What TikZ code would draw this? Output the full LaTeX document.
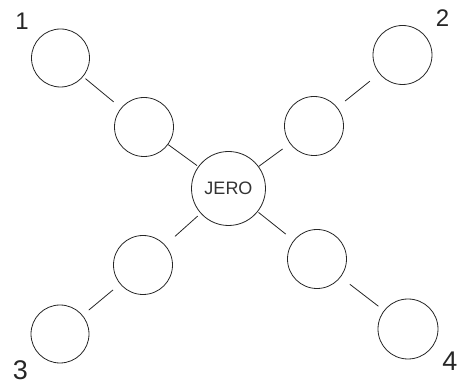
\documentclass[tikz,border=0pt]{standalone}
\usepackage{fontspec}
\setmainfont{Liberation Sans}
\begin{document}
\begin{tikzpicture}[x=1pt,y=-1pt,
  ring/.style={circle,draw=black!85,line width=0.8pt,inner sep=0pt,minimum size=59pt},
  hub/.style={circle,draw=black!85,line width=0.8pt,inner sep=0pt,minimum size=74pt,font=\fontsize{18}{18}\selectfont,text=black!80},
  link/.style={draw=black!85,line width=0.8pt},
  num/.style={inner sep=0pt,text=black!85}]
\useasboundingbox (0,0) rectangle (459,385);
\node[hub] (J) at (228.5,188.5) {JERO};
\node[ring,minimum size=58pt] (C1) at (60.5,58) {};
\node[ring] (A) at (144,127) {};
\node[ring] (B) at (314,126) {};
\node[ring] (C2) at (402.5,55) {};
\node[ring] (D) at (143,265) {};
\node[ring,minimum size=58pt] (C3) at (60,334) {};
\node[ring] (E) at (317,259) {};
\node[ring,minimum size=60pt] (C4) at (408,329) {};
\draw[link,shorten <=3pt,shorten >=9.5pt] (C1) -- (A);
\draw[link,shorten <=0pt,shorten >=1.5pt] (A) -- (J);
\draw[link,shorten <=0pt,shorten >=9pt] (J) -- (B);
\draw[link,shorten <=10pt,shorten >=12pt] (B) -- (C2);
\draw[link,shorten <=4pt,shorten >=13pt] (J) -- (D);
\draw[link,shorten <=9pt,shorten >=8pt] (D) -- (C3);
\draw[link,shorten <=1pt,shorten >=10pt] (J) -- (E);
\draw[link,shorten <=11.5pt,shorten >=7pt] (E) -- (C4);
\node[num,font=\fontsize{24}{24}\selectfont] (n1) at (22,21) {1};
\node[num,font=\fontsize{24}{24}\selectfont] (n2) at (442.5,18) {2};
\node[num,font=\fontsize{27}{27}\selectfont] (n3) at (20.5,370.5) {3};
\node[num,font=\fontsize{27}{27}\selectfont] (n4) at (450,361) {4};
\end{tikzpicture}
\end{document}
